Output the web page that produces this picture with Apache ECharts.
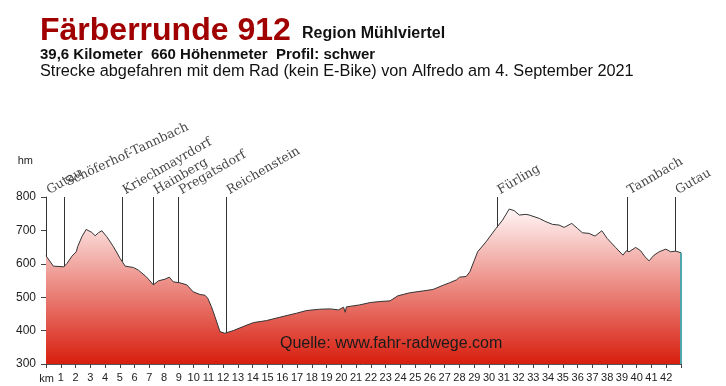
<!DOCTYPE html>
<html><head><meta charset="utf-8">
<script src="https://cdn.jsdelivr.net/npm/echarts@6/dist/echarts.min.js"></script>
<style>html,body{margin:0;padding:0;background:#fff}#c{width:726px;height:386px}</style>
</head><body><div id="c"></div>
<script>
// Distance along route (km) and elevation (m)
const kmValues = [0,0.5,1.2,1.42,1.76,2.05,2.1,2.14,2.43,2.72,3.1,3.33,3.55,3.78,4.12,4.57,5.02,5.36,5.92,6.26,6.82,7.27,7.61,8.06,8.35,8.62,9.07,9.53,9.97,10.43,10.76,10.95,11.2,11.44,11.78,12.11,12.68,13.35,14.05,14.93,15.83,16.96,17.64,18.53,19.25,19.8,20.15,20.26,20.34,21.24,21.96,22.6,23.3,23.82,24.61,25.56,26.2,26.9,27.32,27.8,28.0,28.45,28.7,29.0,29.23,29.8,30.47,30.92,31.37,31.71,32.05,32.5,32.72,33.4,33.85,34.3,34.74,35.09,35.6,35.99,36.32,36.77,37.18,37.64,38.0,38.57,39.07,39.3,39.48,39.93,40.27,40.56,40.84,41.18,41.52,41.97,42.3,42.64,43.0];
const elevations = [624,593,591,601,623,636,640,651,681,703,694,684,693,699,681,651,616,593,589,581,560,537,549,554,560,546,543,537,516,508,506,497,472,442,397,392,400,412,424,430,440,452,460,464,465,462,470,455,471,477,484,487,489,504,513,519,523,536,543,552,560,562,576,610,636,666,706,731,764,759,746,748,746,736,726,718,716,709,721,706,693,691,683,699,676,649,626,639,636,649,639,621,609,626,636,644,636,638,633];
// Places along the route
const placeNames = ['Gutau','Schöferhof-Tannbach','Kriechmayrdorf','Hainberg','Pregatsdorf','Reichenstein','Fürling','Tannbach','Gutau'];
const placeKm = [0,1.22,5.15,7.26,8.96,12.19,30.53,39.34,42.59];
// Axis settings
const yMin = 300, yMax = 800, yStep = 100;
const xMin = 0, xMax = 43, xStep = 1, xLastLabel = 42;
const routeEndKm = 43.0;

function elevAt(k){
  for (let i=0;i<kmValues.length-1;i++){
    if (k>=kmValues[i] && k<=kmValues[i+1]){
      const t=(k-kmValues[i])/(kmValues[i+1]-kmValues[i]);
      return elevations[i]+t*(elevations[i+1]-elevations[i]);
    }
  }
  return elevations[elevations.length-1];
}

const profile = kmValues.map((k,i)=>[k,elevations[i]]);
const markLines = placeKm.map(k=>[{coord:[k,elevAt(k)]},{coord:[k,yMax]}]);
markLines.push([{coord:[routeEndKm,yMin],lineStyle:{color:'#4fa6ad',width:2}},{coord:[routeEndKm,elevAt(routeEndKm)]}]);

const sans = 'Liberation Sans, Arial, sans-serif';
const serif = 'DejaVu Serif, serif';

const chart = echarts.init(document.getElementById('c'), null, {renderer:'canvas'});
chart.setOption({
  animation:false,
  grid:{left:46,right:45,top:197,bottom:22,containLabel:false},
  xAxis:{type:'value',min:xMin,max:xMax,interval:xStep,
    name:'km',nameLocation:'start',nameGap:0,
    nameTextStyle:{align:'center',verticalAlign:'top',padding:[9,0,0,10],fontSize:11,color:'#222',fontFamily:sans},
    axisLine:{show:true,lineStyle:{color:'#555',width:1}},
    axisTick:{show:true,length:4,lineStyle:{color:'#444'}},
    splitLine:{show:false},
    axisLabel:{margin:8,fontSize:11,color:'#222',fontFamily:sans,hideOverlap:false,
      formatter:v=> (v>0 && v<=xLastLabel) ? String(v) : ''}
  },
  yAxis:{type:'value',min:yMin,max:yMax,interval:yStep,
    name:'hm',nameLocation:'end',nameGap:36,
    nameTextStyle:{align:'right',verticalAlign:'middle',padding:[0,13,0,0],fontSize:11,color:'#222',fontFamily:sans},
    axisLine:{show:true,lineStyle:{color:'#555',width:1}},
    axisTick:{show:true,length:5,lineStyle:{color:'#444'}},
    splitLine:{show:false},
    axisLabel:{margin:10,fontSize:12,color:'#222',fontFamily:sans}
  },
  series:[
    {type:'line',data:profile,symbol:'none',smooth:false,z:2,
      lineStyle:{color:'#333',width:1},
      areaStyle:{opacity:1,color:new echarts.graphic.LinearGradient(0,0,0,1,[{offset:0,color:'#fff6f6'},{offset:1,color:'#d81e0e'}])},
      markLine:{silent:true,symbol:['none','none'],label:{show:false},animation:false,
        lineStyle:{color:'#333',width:1,type:'solid'},data:markLines}
    },
    {type:'scatter',symbolSize:0,z:5,silent:true,
      data:placeKm.map((k,i)=>({value:[k,yMax],name:placeNames[i],
        label: placeNames[i]==='Schöferhof-Tannbach' ? {position:[5,-8],rotate:25} : undefined})),
      label:{show:true,formatter:'{b}',position:[5,0],align:'left',verticalAlign:'bottom',rotate:30,
        fontFamily:serif,fontSize:12.5,color:'#111'}
    }
  ],
  graphic:[
    {type:'text',x:40,y:31,style:{text:'Färberrunde 912',fontFamily:sans,fontSize:32,fontWeight:'bold',fill:'#a00000',verticalAlign:'middle'}},
    {type:'text',x:302,y:34,style:{text:'Region Mühlviertel',fontFamily:sans,fontSize:16,fontWeight:'bold',fill:'#111',verticalAlign:'middle'}},
    {type:'text',x:40,y:55,style:{text:'39,6 Kilometer  660 Höhenmeter  Profil: schwer',fontFamily:sans,fontSize:15,fontWeight:'bold',fill:'#111',verticalAlign:'middle'}},
    {type:'text',x:40,y:72,style:{text:'Strecke abgefahren mit dem Rad (kein E-Bike) von Alfredo am 4. September 2021',fontFamily:sans,fontSize:16.3,fill:'#111',verticalAlign:'middle'}},
    {type:'text',x:280,y:344,z:10,style:{text:'Quelle: www.fahr-radwege.com',fontFamily:sans,fontSize:16,fill:'#1a1a1a',verticalAlign:'middle'}}
  ]
});
</script></body></html>
